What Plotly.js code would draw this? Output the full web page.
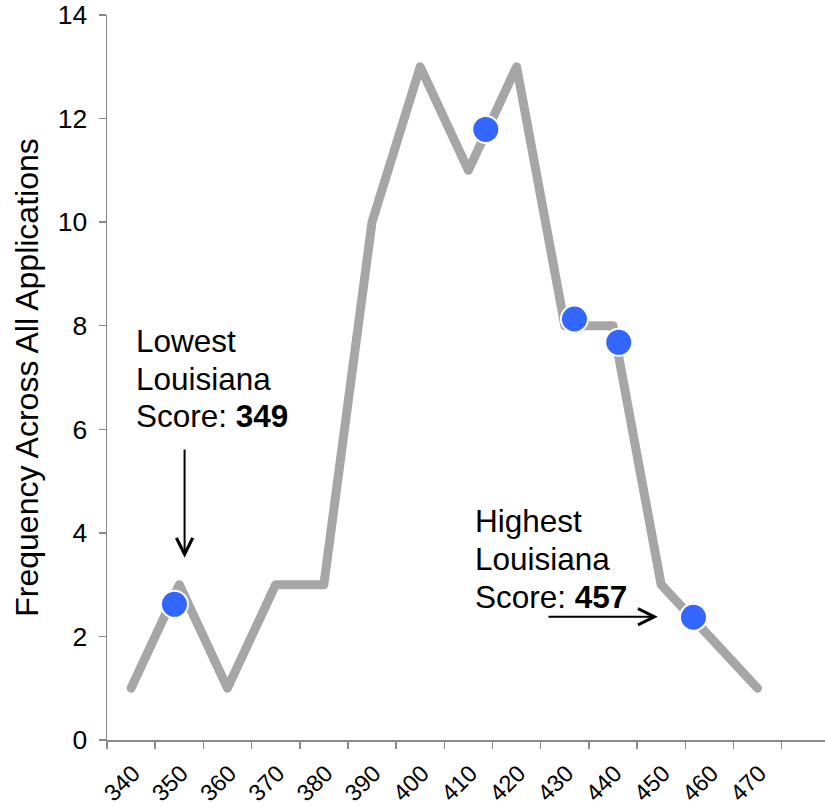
<!DOCTYPE html>
<html>
<head>
<meta charset="utf-8">
<script src="https://cdn.plot.ly/plotly-3.0.1.min.js"></script>
<style>
  html, body { margin: 0; padding: 0; background: #fff; }
  #chart { width: 825px; height: 812px; }
  .scatterlayer .js-line { stroke-linecap: round; stroke-linejoin: round; }
</style>
</head>
<body>
<div id="chart"></div>
<script>
// Score bins (centers) and frequency across all applications
const scores = [340, 350, 360, 370, 380, 390, 400, 410, 420, 430, 440, 450, 460, 470];
const frequency = [1, 3, 1, 3, 3, 10, 13, 11, 13, 8, 8, 3, 2, 1];
// Bin boundaries where tick marks sit
const binEdges = [335, 345, 355, 365, 375, 385, 395, 405, 415, 425, 435, 445, 455, 465, 475];
// Louisiana scores (blue dots)
const laScores = [349, 413.6, 432, 441.2, 456.7];
const laHeights = [2.62, 11.79, 8.13, 7.68, 2.37];
const yTicks = [0, 2, 4, 6, 8, 10, 12, 14];
// Annotation text lines
const lowLines = ['Lowest', 'Louisiana', 'Score: <b>349</b>'];
const highLines = ['Highest', 'Louisiana', 'Score: <b>457</b>'];

const FONT = 'Liberation Sans, Arial, Helvetica, sans-serif';
const xRange = [335, 484];
const ANN_FONT = { family: FONT, size: 31.5, color: '#000000' };
const LINE_STEP = 0.73; // line spacing in data units

const traces = [
  {
    type: 'scatter', mode: 'lines',
    x: scores, y: frequency,
    line: { color: '#A6A6A6', width: 9 },
    hoverinfo: 'x+y', showlegend: false
  },
  {
    type: 'scatter', mode: 'markers',
    x: laScores, y: laHeights, xaxis: 'x2',
    marker: { color: '#3366FF', size: 27, line: { color: '#FFFFFF', width: 2 } },
    hoverinfo: 'x+y', showlegend: false
  }
];

function textBlock(lines, x, yTop) {
  return lines.map((t, i) => ({
    text: t, xref: 'x', yref: 'y', x: x, y: yTop - i * LINE_STEP,
    xanchor: 'left', yanchor: 'middle', align: 'left', showarrow: false,
    font: ANN_FONT
  }));
}

const annotations = []
  .concat(textBlock(lowLines, 340.55, 7.71))
  .concat(textBlock(highLines, 410.9, 4.22))
  .concat([
    {
      text: '', xref: 'x', yref: 'y', x: 351.1, y: 3.52,
      axref: 'x', ayref: 'y', ax: 351.1, ay: 5.64,
      showarrow: true, arrowhead: 5, arrowsize: 1.6, arrowwidth: 2, arrowcolor: '#000000'
    },
    {
      text: '', xref: 'x', yref: 'y', x: 449.3, y: 2.38,
      axref: 'x', ayref: 'y', ax: 426.3, ay: 2.38,
      showarrow: true, arrowhead: 5, arrowsize: 1.6, arrowwidth: 2, arrowcolor: '#000000'
    }
  ]);

const layout = {
  width: 825, height: 812,
  margin: { l: 107.3, r: 0, t: 15.3, b: 72, autoexpand: false },
  paper_bgcolor: '#FFFFFF', plot_bgcolor: '#FFFFFF',
  font: { family: FONT, color: '#000000' },
  showlegend: false,
  xaxis: {
    range: xRange, fixedrange: true,
    tickmode: 'array', tickvals: binEdges, showticklabels: false,
    ticks: 'outside', ticklen: 7, tickwidth: 1.5, tickcolor: '#898989',
    showline: true, linecolor: '#898989', linewidth: 1.5,
    showgrid: false, zeroline: false
  },
  xaxis2: {
    overlaying: 'x', anchor: 'y', side: 'bottom',
    range: xRange, fixedrange: true,
    tickmode: 'array', tickvals: scores, ticktext: scores.map(String),
    ticks: '', tickangle: -45, ticklabelstandoff: 14, ticklabelshift: 2,
    tickfont: { family: FONT, size: 23.5, color: '#000000' },
    showline: false, showgrid: false, zeroline: false
  },
  yaxis: {
    range: [0, 14], fixedrange: true, automargin: true,
    tickmode: 'array', tickvals: yTicks,
    ticks: 'outside', ticklen: 7, tickwidth: 1.5, tickcolor: '#898989',
    ticklabelstandoff: 6,
    tickfont: { family: FONT, size: 26.5, color: '#000000' },
    showline: true, linecolor: '#898989', linewidth: 1.5,
    showgrid: false, zeroline: false,
    title: { text: 'Frequency Across All Applications', standoff: 9, font: { family: FONT, size: 32, color: '#000000' } }
  },
  annotations: annotations
};

Plotly.newPlot('chart', traces, layout, { displayModeBar: false, staticPlot: true });
</script>
</body>
</html>
